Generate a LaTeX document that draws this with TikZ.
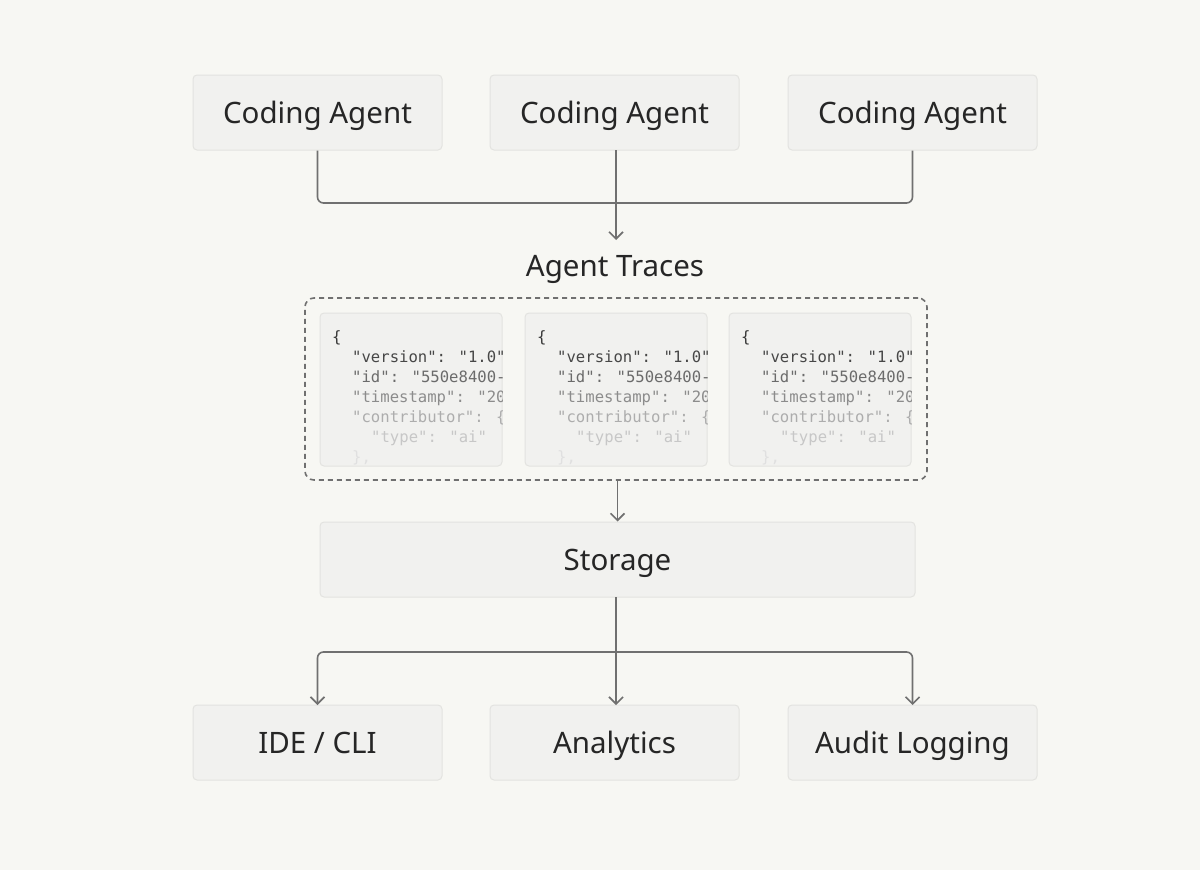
\documentclass[tikz,border=0pt]{standalone}
\usepackage{fontspec}
\setmainfont{Noto Sans}
\newfontfamily\codefont{DejaVu Sans Mono}
\usetikzlibrary{arrows.meta}
\definecolor{bg}{HTML}{F7F7F3}
\definecolor{boxfill}{HTML}{F1F1EF}
\definecolor{boxline}{HTML}{E3E3E0}
\definecolor{wire}{HTML}{707070}
\begin{document}
\begin{tikzpicture}[x=1pt,y=-1pt,
  box/.style={draw=boxline,fill=boxfill,rounded corners=4pt,line width=1pt,minimum width=249pt,minimum height=75pt,font=\fontsize{29.5}{33}\selectfont,text=black!85,inner sep=0pt,text height=21pt,text depth=0pt},
  card/.style={draw=boxline,fill=boxfill,rounded corners=4pt,line width=1pt},
  wire/.style={draw=wire,line width=1.6pt,rounded corners=6pt},
  arr/.style={wire,-{Straight Barb[length=7pt,width=14pt,line width=1.6pt]}},
  code/.style={anchor=base west,font=\codefont\fontsize{15.6}{19}\selectfont,inner sep=0pt}]
\fill[bg] (0,0) rectangle (1200,870);
\useasboundingbox (0,0) rectangle (1200,870);
\node[box] (a1) at (317.5,112.5) {Coding Agent};
\node[box] (a2) at (614.5,112.5) {Coding Agent};
\node[box] (a3) at (912.5,112.5) {Coding Agent};
\draw[wire] (a1.south) -- (317.5,203) -- (912.5,203) -- (a3.south);
\node[font=\fontsize{29.5}{33}\selectfont,text=black!85,text height=21pt,text depth=0pt] (t) at (615,266) {Agent Traces};
\draw[arr] (616,150) -- (616,240);
\node[draw=wire,dash pattern=on 5pt off 4pt,line width=1.6pt,rounded corners=9pt,minimum width=622pt,minimum height=182pt,inner sep=0pt] (tr) at (616,389) {};
\foreach \x/\n in {320/c1,525/c2,729/c3}{
  \path[card] (\x,313) rectangle (\x+182,466);
  \begin{scope}
  \clip (\x,313) rectangle (\x+182,466);
  \node[code,text=black!78] at (\x+12,342) {\{};
  \node[code,text=black!72] at (\x+32,362) {"version": "1.0"};
  \node[code,text=black!58] at (\x+32,382) {"id": "550e8400-};
  \node[code,text=black!45] at (\x+32,402) {"timestamp": "20};
  \node[code,text=black!32] at (\x+32,422) {"contributor": \{};
  \node[code,text=black!22] at (\x+51,442) {"type": "ai"};
  \node[code,text=black!12] at (\x+32,462) {\},};
  \end{scope}
}
\node[box,minimum width=595pt] (s) at (617.5,559.5) {Storage};
\draw[arr] (tr.south -| s.north) -- (s.north);
\node[box] (b1) at (317.5,742.5) {IDE / CLI};
\node[box] (b2) at (614.5,742.5) {Analytics};
\node[box] (b3) at (912.5,742.5) {Audit Logging};
\draw[arr] (616,597) -- (616,705);
\draw[arr] (616,652) -- (317.5,652) -- (317.5,705);
\draw[arr] (616,652) -- (912.5,652) -- (912.5,705);
\end{tikzpicture}
\end{document}
